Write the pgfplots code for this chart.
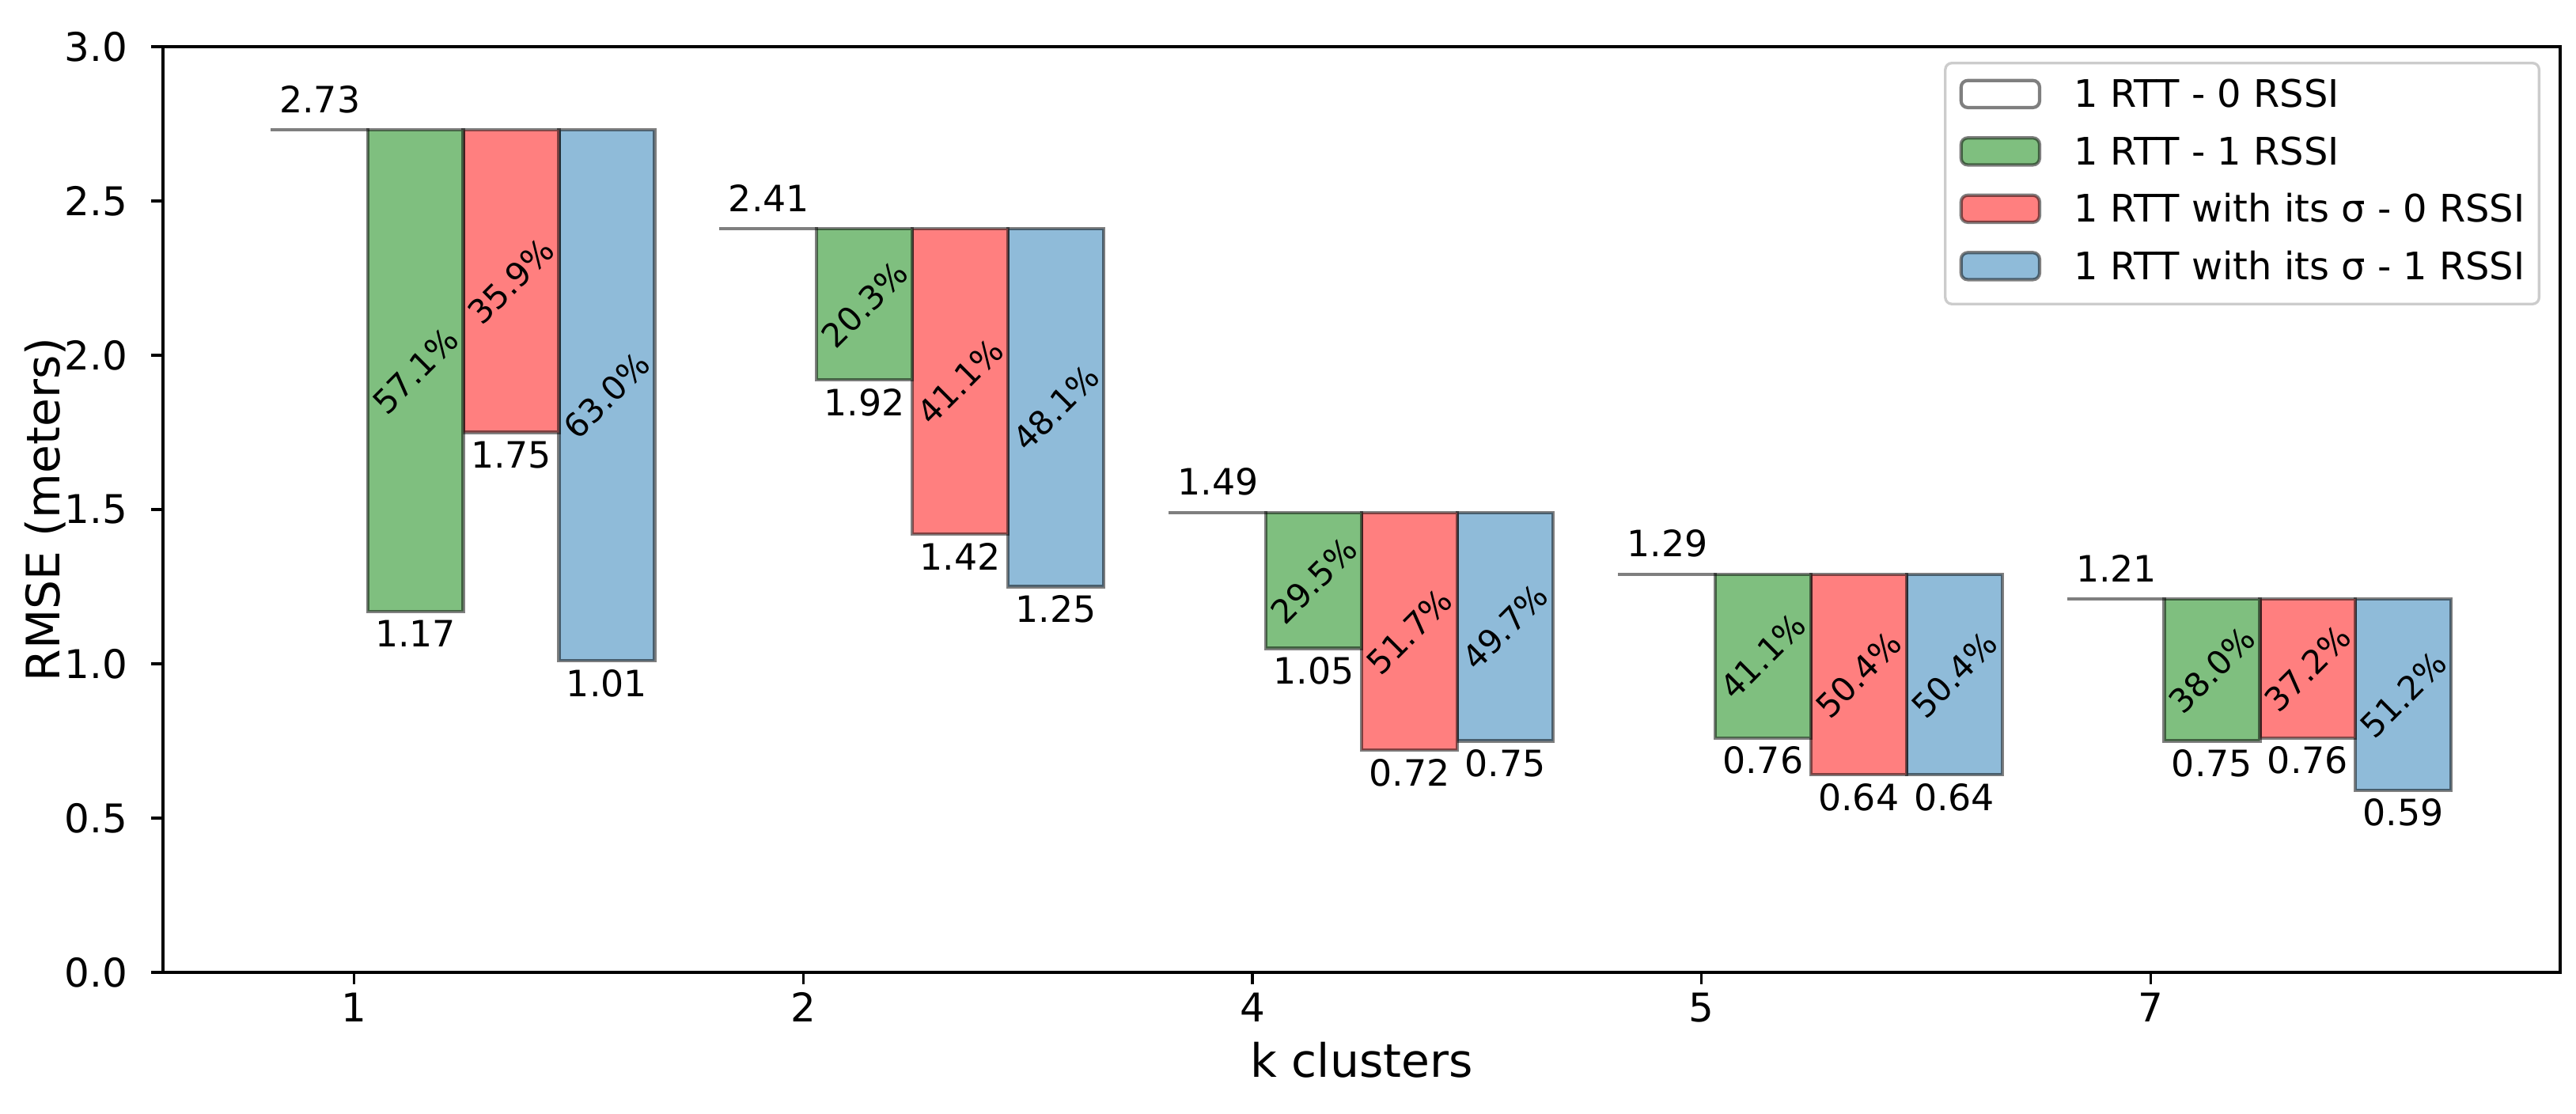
\documentclass[border=0pt]{standalone}
\usepackage{fontspec}
\setmainfont{DejaVu Sans}
\usepackage{pgfplots}
\usepackage{pgfplotstable}
\pgfplotsset{compat=1.18}
\definecolor{cgreen}{HTML}{7FBF7F}
\definecolor{cred}{HTML}{FF7F7F}
\definecolor{cblue}{HTML}{8FBBD9}
\tikzset{
  baredge/.style={draw=black, draw opacity=0.5, line width=1pt},
  hiddenbar/.style={draw=none, fill=none},
}
% nodes near coords of stacked bars sit at the middle of each bar; 46.8 pt = half an axis unit
\pgfplotsset{
  baselabel/.style={point meta=explicit,
    visualization depends on={46.8*\thisrow{base}+5.3 \as \hh},
    nodes near coords={\pgfmathprintnumber[fixed,fixed zerofill,precision=2]{\pgfplotspointmeta}},
    nodes near coords style={anchor=base, yshift=\hh pt, inner sep=0pt, draw=none, fill=none, text=black, font=\fontsize{11}{13}\selectfont}},
  vallabel/.style={point meta=explicit,
    visualization depends on={46.8*(\thisrow{#1}-\thisrow{base})-10.8 \as \hh},
    nodes near coords={\pgfmathprintnumber[fixed,fixed zerofill,precision=2]{\pgfplotspointmeta}},
    nodes near coords style={anchor=base, yshift=\hh pt, inner sep=0pt, draw=none, fill=none, text=black, font=\fontsize{11}{13}\selectfont}},
  pctlabel/.style={point meta=explicit,
    nodes near coords={\pgfmathprintnumber[fixed,fixed zerofill,precision=1]{\pgfplotspointmeta}\%},
    nodes near coords style={anchor=center, rotate=45, inner sep=0pt, draw=none, fill=none, text=black, font=\fontsize{10}{12}\selectfont}},
}
\pgfplotstableread{
k base g r b pg pr pb
0 2.73 1.17 1.75 1.01 57.1 35.9 63.0
1 2.41 1.92 1.42 1.25 20.3 41.1 48.1
2 1.49 1.05 0.72 0.75 29.5 51.7 49.7
3 1.29 0.76 0.64 0.64 41.1 50.4 50.4
4 1.21 0.75 0.76 0.59 38.0 37.2 51.2
}\datatable
\begin{document}
\begin{tikzpicture}
\begin{axis}[
  at={(0pt,0pt)}, anchor=south west,
  scale only axis, width=727.2pt, height=280.8pt,
  xmin=-0.4256, xmax=4.9116, ymin=0, ymax=3,
  ybar stacked, stack negative=on previous, bar width=0.213,
  axis line style={line width=0.8pt, black},
  tick style={line width=0.8pt, black},
  major tick length=3.5pt,
  tick align=outside,
  xtick pos=left, ytick pos=left,
  xtick={0,1,2,3,4}, xticklabels={1,2,4,5,7},
  ytick={0,0.5,1,1.5,2,2.5,3},
  /pgf/number format/assume math mode=true,
  tick label style={font=\fontsize{12}{14}\selectfont},
  xticklabel style={anchor=base, inner sep=0pt, yshift=-11.6pt},
  yticklabel style={anchor=east, inner sep=0pt, xshift=-7pt,
    /pgf/number format/fixed, /pgf/number format/fixed zerofill, /pgf/number format/precision=1},
  xlabel={k clusters}, ylabel={RMSE (meters)},
  label style={font=\fontsize{14}{17}\selectfont},
  xlabel style={at={(axis description cs:0.5,-0.1136)}, anchor=base, inner sep=0pt},
  ylabel style={at={(axis description cs:-0.0432,0.5)}, anchor=base, inner sep=0pt},
  legend style={at={(rel axis cs:1,1)}, anchor=north east, xshift=-6pt, yshift=-4.56pt,
    draw=black!20, line width=0.8pt, rounded corners=2pt, fill=white,
    inner xsep=4.3pt, inner ysep=4.8pt, row sep=6.1pt, column sep=10pt,
    font=\fontsize{11.5}{13.8}\selectfont,
    nodes={inner sep=0pt, anchor=base west, text height=8.6pt, text depth=2.6pt}},
  legend cell align=left,
]
\addlegendimage{legend image code/.code={\draw[fill=white,baredge] (0pt,0pt) rectangle (23.8pt,8.2pt);}}
\addlegendentry{1 RTT - 0 RSSI}
\addlegendimage{legend image code/.code={\draw[fill=cgreen,baredge] (0pt,0pt) rectangle (23.8pt,8.2pt);}}
\addlegendentry{1 RTT - 1 RSSI}
\addlegendimage{legend image code/.code={\draw[fill=cred,baredge] (0pt,0pt) rectangle (23.8pt,8.2pt);}}
\addlegendentry{1 RTT with its σ - 0 RSSI}
\addlegendimage{legend image code/.code={\draw[fill=cblue,baredge] (0pt,0pt) rectangle (23.8pt,8.2pt);}}
\addlegendentry{1 RTT with its σ - 1 RSSI}
% baseline (1 RTT - 0 RSSI): a flat bar at the baseline value
\addplot[hiddenbar, forget plot, bar shift=-0.0765, baselabel] table[x=k, y=base, meta=base]{\datatable};
\addplot[fill=white, baredge, forget plot, bar shift=-0.0765] table[x=k, y expr=0.0004]{\datatable};
% 1 RTT - 1 RSSI
\addplot[hiddenbar, forget plot, bar shift=0.1365, vallabel=g] table[x=k, y expr=\thisrow{g}-\thisrow{base}-0.0004, meta=g]{\datatable};
\addplot[fill=cgreen, baredge, forget plot, bar shift=0.1365, pctlabel] table[x=k, y expr=\thisrow{base}-\thisrow{g}, meta=pg]{\datatable};
% 1 RTT with its sigma - 0 RSSI
\addplot[hiddenbar, forget plot, bar shift=0.3495, vallabel=r] table[x=k, y expr=\thisrow{r}-\thisrow{base}, meta=r]{\datatable};
\addplot[fill=cred, baredge, forget plot, bar shift=0.3495, pctlabel] table[x=k, y expr=\thisrow{base}-\thisrow{r}, meta=pr]{\datatable};
% 1 RTT with its sigma - 1 RSSI
\addplot[hiddenbar, forget plot, bar shift=0.5625, vallabel=b] table[x=k, y expr=\thisrow{b}-\thisrow{base}, meta=b]{\datatable};
\addplot[fill=cblue, baredge, forget plot, bar shift=0.5625, pctlabel] table[x=k, y expr=\thisrow{base}-\thisrow{b}, meta=pb]{\datatable};
\end{axis}
\pgfresetboundingbox
\path[use as bounding box] (-49.44pt,-42.72pt) rectangle (732.0pt,294.96pt);
\end{tikzpicture}
\end{document}
